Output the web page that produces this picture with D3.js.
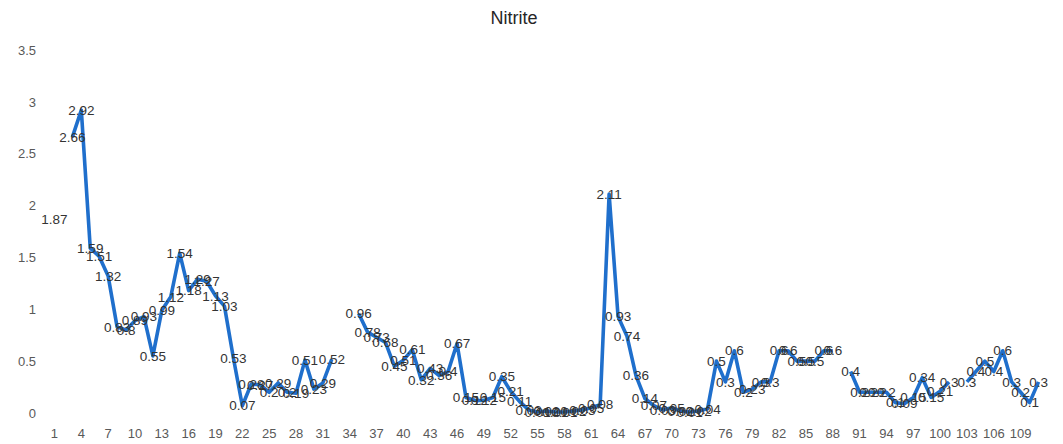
<!DOCTYPE html>
<html>
<head>
<meta charset="utf-8">
<script src="https://cdn.jsdelivr.net/npm/d3@7"></script>
<style>
  html, body { margin: 0; padding: 0; background: #fff; }
  svg { display: block; }
</style>
</head>
<body>
<svg id="chart" width="1063" height="444"></svg>
<script>
const chartTitle = "Nitrite";
const categories = d3.range(1, 112);
const nitrite = [
  1.87, null, 2.66, 2.92, 1.59, 1.51, 1.32, 0.83, 0.8, 0.89,
  0.93, 0.55, 0.99, 1.12, 1.54, 1.18, 1.29, 1.27, 1.13, 1.03,
  0.53, 0.07, 0.28, 0.27, 0.2, 0.29, 0.2, 0.19, 0.51, 0.23,
  0.29, 0.52, null, null, 0.96, 0.78, 0.73, 0.68, 0.45, 0.51,
  0.61, 0.32, 0.43, 0.36, 0.4, 0.67, 0.15, 0.12, 0.12, 0.15,
  0.35, 0.21, 0.11, 0.03, 0.01, 0.02, 0.01, 0.01, 0.02, 0.03,
  0.05, 0.08, 2.11, 0.93, 0.74, 0.36, 0.14, 0.07, 0.03, 0.05,
  0.02, 0.01, 0.02, 0.04, 0.5, 0.3, 0.6, 0.2, 0.23, 0.3,
  0.3, 0.6, 0.6, 0.5, 0.5, 0.5, 0.6, 0.6, null, 0.4,
  0.2, 0.2, 0.2, 0.2, 0.1, 0.09, 0.15, 0.34, 0.15, 0.21,
  0.3, null, 0.3, 0.4, 0.5, 0.4, 0.6, 0.3, 0.2, 0.1,
  0.3
];
const xTickLabels = categories.filter(c => (c - 1) % 3 === 0);
const yTickLabels = [0, 0.5, 1, 1.5, 2, 2.5, 3, 3.5];

const svg = d3.select("#chart");
const W = 1063, H = 444;
const plot = { left: 50, right: 1043, top: 50, bottom: 413 };

svg.append("rect").attr("width", W).attr("height", H).attr("fill", "#fff");

const x = d3.scaleBand().domain(categories).range([plot.left, plot.right]).padding(0);
const cx = d => x(d) + x.bandwidth() / 2;
const y = d3.scaleLinear().domain([0, 3.5]).range([plot.bottom, plot.top]);

const font = "'Liberation Sans', Arial, sans-serif";

// title
svg.append("text")
  .attr("x", 514).attr("y", 24)
  .attr("text-anchor", "middle")
  .attr("font-family", font)
  .attr("font-size", 18)
  .attr("fill", "#262626")
  .text(chartTitle);

// y axis
const yAxis = d3.axisLeft(y).tickValues(yTickLabels).tickSize(0).tickPadding(0)
  .tickFormat(d => String(d));
const gy = svg.append("g").attr("transform", `translate(36,0)`).call(yAxis);
gy.select(".domain").remove();
gy.selectAll("text").attr("font-family", font).attr("font-size", 13).attr("fill", "#595959");

// x axis
const xAxis = d3.axisBottom(x).tickValues(xTickLabels).tickSize(0).tickPadding(0)
  .tickFormat(d => String(d));
const gx = svg.append("g").attr("transform", `translate(0,${plot.bottom + 16})`).call(xAxis);
gx.select(".domain").remove();
gx.selectAll("text").attr("font-family", font).attr("font-size", 13).attr("fill", "#595959");

// line
const pts = categories.map((c, i) => ({ c, v: nitrite[i] }));
const line = d3.line()
  .defined(d => d.v != null)
  .x(d => cx(d.c))
  .y(d => y(d.v));

svg.append("path")
  .datum(pts)
  .attr("fill", "none")
  .attr("stroke", "#1f6fcc")
  .attr("stroke-width", 3.6)
  .attr("stroke-linejoin", "round")
  .attr("stroke-linecap", "butt")
  .attr("d", line);

// data labels
svg.append("g").selectAll("text")
  .data(pts.filter(d => d.v != null))
  .join("text")
  .attr("x", d => cx(d.c))
  .attr("y", d => y(d.v))
  .attr("dy", "0.35em")
  .attr("text-anchor", "middle")
  .attr("font-family", font)
  .attr("font-size", 13.5)
  .attr("fill", "#333")
  .text(d => String(d.v));
</script>
</body>
</html>
